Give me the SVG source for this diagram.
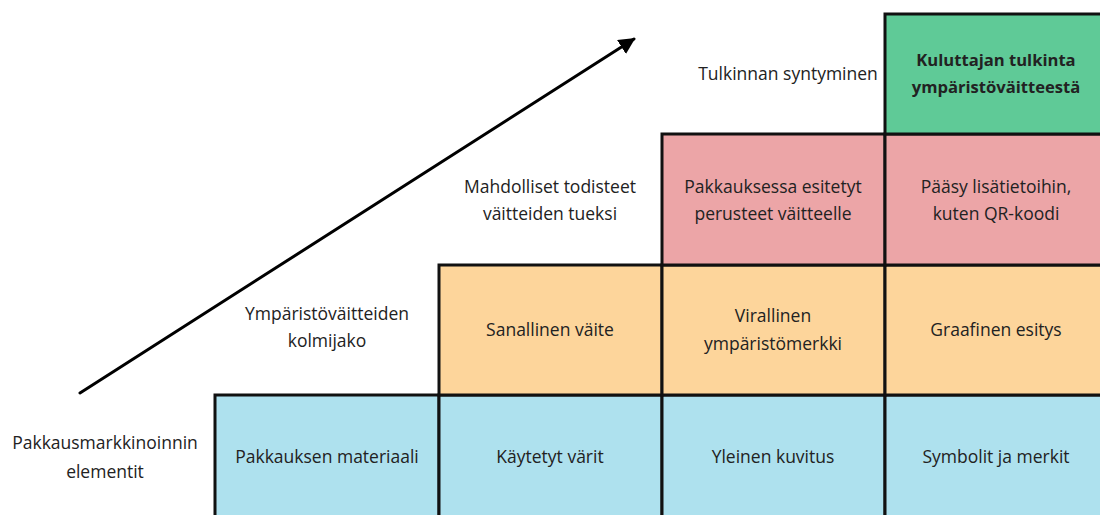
<svg xmlns="http://www.w3.org/2000/svg" width="1100" height="515" viewBox="0 0 1100 515">
<defs>
<style>
.t{font-family:"Open Sans","Liberation Sans",sans-serif;font-size:17.5px;fill:#222;text-anchor:middle}
.b{font-weight:bold;font-size:16.6px}
.box{stroke:#111;stroke-width:3}
.blue{fill:#aee1ee}.orange{fill:#fdd59b}.pink{fill:#eca5a7}.green{fill:#5fca97}
</style>
<marker id="ah" viewBox="0 0 10 10" refX="9" refY="5" markerWidth="5.5" markerHeight="5.5" orient="auto" markerUnits="strokeWidth">
<path d="M0,0 L10,5 L0,10 z" fill="#000"/>
</marker>
</defs>
<rect width="1100" height="515" fill="#fff"/>
<g id="connectors">
<line x1="80" y1="393" x2="634" y2="39" stroke="#000" stroke-width="3" stroke-linecap="round" marker-end="url(#ah)"/>
</g>
<g id="label-elementit"><text class="t" x="105" y="449">Pakkausmarkkinoinnin</text><text class="t" x="105" y="478">elementit</text></g>
<g id="label-kolmijako"><text class="t" x="327" y="320">Ympäristöväitteiden</text><text class="t" x="327" y="347">kolmijako</text></g>
<g id="label-todisteet"><text class="t" x="550" y="193">Mahdolliset todisteet</text><text class="t" x="550" y="220">väitteiden tueksi</text></g>
<g id="label-tulkinta"><text class="t" x="788" y="80">Tulkinnan syntyminen</text></g>
<g id="b-materiaali"><rect class="box blue" x="215" y="395" width="224" height="130"/><text class="t" x="327" y="463">Pakkauksen materiaali</text></g>
<g id="b-varit"><rect class="box blue" x="439" y="395" width="223" height="130"/><text class="t" x="550" y="463">Käytetyt värit</text></g>
<g id="b-kuvitus"><rect class="box blue" x="662" y="395" width="223" height="130"/><text class="t" x="773" y="463">Yleinen kuvitus</text></g>
<g id="b-symbolit"><rect class="box blue" x="885" y="395" width="223" height="130"/><text class="t" x="996" y="463">Symbolit ja merkit</text></g>
<g id="b-sanallinen"><rect class="box orange" x="439" y="265" width="223" height="130"/><text class="t" x="550" y="336">Sanallinen väite</text></g>
<g id="b-virallinen"><rect class="box orange" x="662" y="265" width="223" height="130"/><text class="t" x="773" y="322">Virallinen</text><text class="t" x="773" y="350">ympäristömerkki</text></g>
<g id="b-graafinen"><rect class="box orange" x="885" y="265" width="223" height="130"/><text class="t" x="996" y="336">Graafinen esitys</text></g>
<g id="b-perusteet"><rect class="box pink" x="662" y="134" width="223" height="131"/><text class="t" x="773" y="193">Pakkauksessa esitetyt</text><text class="t" x="773" y="220">perusteet väitteelle</text></g>
<g id="b-lisatiedot"><rect class="box pink" x="885" y="134" width="223" height="131"/><text class="t" x="996" y="193">Pääsy lisätietoihin,</text><text class="t" x="996" y="220">kuten QR-koodi</text></g>
<g id="b-kuluttaja"><rect class="box green" x="885" y="14" width="223" height="120"/><text class="t b" x="996" y="66">Kuluttajan tulkinta</text><text class="t b" x="996" y="93">ympäristöväitteestä</text></g>
</svg>
